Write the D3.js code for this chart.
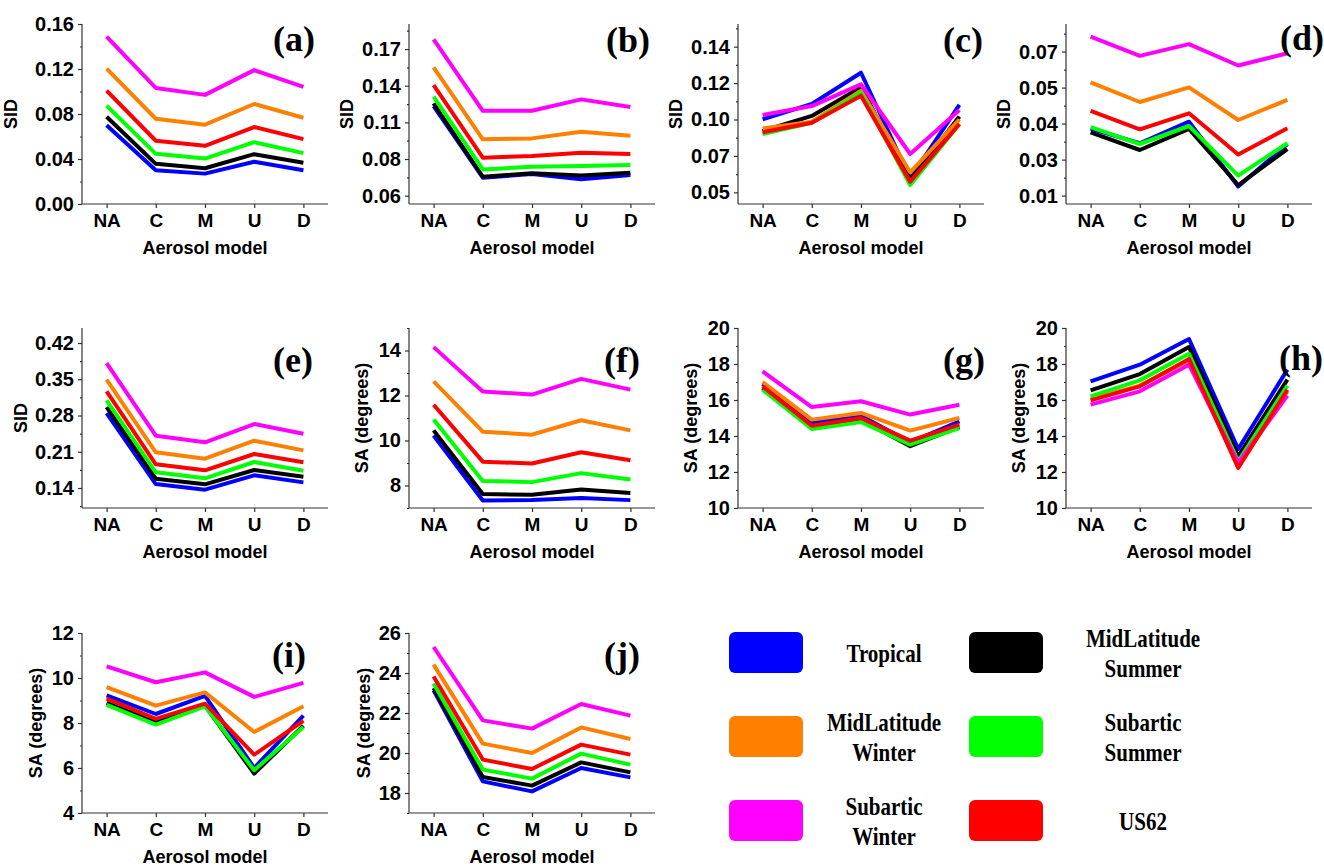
<!DOCTYPE html>
<html>
<head>
<meta charset="utf-8">
<script src="https://cdn.jsdelivr.net/npm/d3@7"></script>
<style>
  body { margin: 0; background: #fff; }
  .tick text { font-family: "Liberation Sans", Arial, sans-serif; font-weight: bold; fill: #000; }
  .axis path, .axis line { stroke: #333; stroke-width: 1.2; }
  .axisLabel { font-family: "Liberation Sans", Arial, sans-serif; font-weight: bold; font-size: 18px; }
  .letter { font-family: "Liberation Serif", "Times New Roman", serif; font-weight: bold; font-size: 36px; }
  .legendText { font-family: "Liberation Serif", "Times New Roman", serif; font-weight: bold; font-size: 21px; }
</style>
</head>
<body>
<div id="chart"></div>
<script>
// categories and series
const categories = ["NA", "C", "M", "U", "D"];
const seriesNames = ["Tropical", "MidLatitude Summer", "MidLatitude Winter", "Subartic Summer", "Subartic Winter", "US62"];
const seriesColors = ["#0000ff", "#000000", "#ff8000", "#00ff00", "#ff00ff", "#ff0000"];

// values per panel, one row per series (same order as seriesNames)
const sidA = [
  [0.070, 0.030, 0.027, 0.0375, 0.030],
  [0.0776, 0.0357, 0.0318, 0.0443, 0.0366],
  [0.1204, 0.0758, 0.0705, 0.0889, 0.0767],
  [0.0874, 0.0446, 0.0404, 0.055, 0.0452],
  [0.1487, 0.1032, 0.097, 0.119, 0.1041],
  [0.1008, 0.0562, 0.0517, 0.0684, 0.0577]
];
const sidB = [
  [0.1284, 0.0697, 0.0727, 0.0684, 0.0719],
  [0.1305, 0.0705, 0.0733, 0.0716, 0.0738],
  [0.160, 0.1011, 0.1019, 0.1074, 0.1041],
  [0.136, 0.0765, 0.0787, 0.0793, 0.0801],
  [0.1829, 0.1245, 0.1245, 0.1338, 0.1275],
  [0.1455, 0.0861, 0.0875, 0.0902, 0.0891]
];
const sidC = [
  [0.0951, 0.1046, 0.1239, 0.0587, 0.104],
  [0.0879, 0.0972, 0.1149, 0.0576, 0.0968],
  [0.0895, 0.0937, 0.1128, 0.0624, 0.0951],
  [0.086, 0.093, 0.1116, 0.0545, 0.0922],
  [0.0978, 0.1033, 0.1167, 0.0737, 0.1009],
  [0.0871, 0.093, 0.1097, 0.0566, 0.0922]
];
const sidD = [
  [0.0379, 0.0318, 0.0408, 0.0138, 0.0315],
  [0.0363, 0.029, 0.0378, 0.0144, 0.0294],
  [0.0572, 0.049, 0.0551, 0.0415, 0.0499],
  [0.0385, 0.0315, 0.039, 0.0183, 0.0318],
  [0.0762, 0.0682, 0.0731, 0.0642, 0.0693],
  [0.0453, 0.0376, 0.0443, 0.0271, 0.0381]
];
const sidE = [
  [0.2848, 0.1477, 0.1368, 0.1645, 0.1509],
  [0.2964, 0.158, 0.1471, 0.1748, 0.1619],
  [0.3492, 0.2089, 0.1966, 0.2314, 0.2127],
  [0.3093, 0.1703, 0.1587, 0.1902, 0.1735],
  [0.3814, 0.2411, 0.2282, 0.2636, 0.2449],
  [0.3267, 0.1857, 0.1741, 0.2057, 0.1896]
];
const saF = [
  [10.22, 7.33, 7.36, 7.44, 7.35],
  [10.45, 7.62, 7.59, 7.82, 7.67],
  [12.63, 10.39, 10.26, 10.9, 10.45],
  [10.93, 8.2, 8.15, 8.55, 8.27],
  [14.15, 12.18, 12.04, 12.74, 12.26],
  [11.59, 9.06, 8.98, 9.48, 9.12]
];
const saG = [
  [16.89, 14.72, 15.13, 13.65, 14.81],
  [16.67, 14.48, 14.91, 13.43, 14.5],
  [17.0, 14.91, 15.28, 14.3, 15.0],
  [16.57, 14.39, 14.78, 13.52, 14.44],
  [17.59, 15.61, 15.93, 15.19, 15.74],
  [16.76, 14.57, 15.0, 13.74, 14.63]
];
const saH = [
  [17.04, 17.96, 19.39, 13.28, 17.69],
  [16.54, 17.44, 18.94, 12.87, 17.13],
  [16.06, 16.8, 18.2, 12.31, 16.48],
  [16.2, 17.09, 18.57, 12.59, 16.8],
  [15.74, 16.48, 17.96, 12.5, 16.24],
  [15.98, 16.76, 18.28, 12.22, 16.57]
];
const saI = [
  [9.23, 8.4, 9.21, 6.0, 8.33],
  [8.89, 8.03, 8.77, 5.75, 7.88],
  [9.59, 8.77, 9.36, 7.6, 8.74],
  [8.81, 7.93, 8.74, 5.9, 7.82],
  [10.52, 9.81, 10.25, 9.16, 9.78],
  [9.08, 8.18, 8.86, 6.59, 8.1]
];
const saJ = [
  [23.13, 18.58, 18.08, 19.25, 18.78],
  [23.25, 18.8, 18.37, 19.53, 19.03],
  [24.42, 20.47, 20.0, 21.28, 20.7],
  [23.47, 19.17, 18.72, 19.97, 19.42],
  [25.3, 21.63, 21.22, 22.45, 21.87],
  [23.83, 19.67, 19.2, 20.42, 19.92]
];

// y ticks (positions) and their printed labels
const ticksA = [0, 0.04, 0.08, 0.12, 0.16];
const labelsA = ["0.00", "0.04", "0.08", "0.12", "0.16"];
const ticksB = [0.055, 0.085, 0.115, 0.145, 0.175];
const labelsB = ["0.06", "0.08", "0.11", "0.14", "0.17"];
const ticksC = [0.05, 0.0725, 0.095, 0.1175, 0.14];
const labelsC = ["0.05", "0.07", "0.10", "0.12", "0.14"];
const ticksD = [0.01, 0.025, 0.04, 0.055, 0.07];
const labelsD = ["0.01", "0.03", "0.04", "0.05", "0.07"];
const ticksE = [0.14, 0.21, 0.28, 0.35, 0.42];
const labelsE = ["0.14", "0.21", "0.28", "0.35", "0.42"];
const ticksF = [8, 10, 12, 14];
const ticksGH = [10, 12, 14, 16, 18, 20];
const ticksI = [4, 6, 8, 10, 12];
const ticksJ = [18, 20, 22, 24, 26];

const W = 1324, H = 866;
const pw = 246, ph = 180;
const colX = [82, 409, 738, 1066];
const rowY = [24, 328, 633];

const panels = [
  {id: "a", data: sidA, ticks: ticksA, labels: labelsA, domain: [0, 0.16], title: "SID", col: 0, row: 0, off: 65, ldx: -13, ldy: 27},
  {id: "b", data: sidB, ticks: ticksB, labels: labelsB, domain: [0.0482, 0.1955], title: "SID", col: 1, row: 0, off: 56, ldx: -5, ldy: 28},
  {id: "c", data: sidC, ticks: ticksC, labels: labelsC, domain: [0.0428, 0.154], title: "SID", col: 2, row: 0, off: 56, ldx: -1, ldy: 28},
  {id: "d", data: sidD, ticks: ticksD, labels: labelsD, domain: [0.0065, 0.0815], title: "SID", col: 3, row: 0, off: 56, ldx: 12, ldy: 26},
  {id: "e", data: sidE, ticks: ticksE, labels: labelsE, domain: [0.1014, 0.449], title: "SID", col: 0, row: 1, off: 55, ldx: -15, ldy: 44},
  {id: "f", data: saF, ticks: ticksF, labels: ticksF.map(String), domain: [7, 15], title: "SA (degrees)", col: 1, row: 1, off: 41, ldx: -15, ldy: 44},
  {id: "g", data: saG, ticks: ticksGH, labels: ticksGH.map(String), domain: [10, 20], title: "SA (degrees)", col: 2, row: 1, off: 41, ldx: 1, ldy: 44},
  {id: "h", data: saH, ticks: ticksGH, labels: ticksGH.map(String), domain: [10, 20], title: "SA (degrees)", col: 3, row: 1, off: 41, ldx: 11, ldy: 42},
  {id: "i", data: saI, ticks: ticksI, labels: ticksI.map(String), domain: [4, 12], title: "SA (degrees)", col: 0, row: 2, off: 40, ldx: -22, ldy: 34},
  {id: "j", data: saJ, ticks: ticksJ, labels: ticksJ.map(String), domain: [17, 26], title: "SA (degrees)", col: 1, row: 2, off: 39, ldx: -15, ldy: 34}
];

const svg = d3.select("#chart").append("svg")
    .attr("width", W)
    .attr("height", H);

const x = d3.scalePoint().domain(categories).range([0, pw]).padding(0.5);

function drawPanel(p) {
    let g = svg.append("g")
        .attr("transform", "translate(" + colX[p.col] + "," + rowY[p.row] + ")");

    let y = d3.scaleLinear().domain(p.domain).range([ph, 0]);

    // minor ticks halfway between the labelled ones
    let step = p.ticks[1] - p.ticks[0];
    let minor = [];
    for (let v = p.ticks[0] - step / 2; v <= p.domain[1] + 1e-9; v += step) {
        if (v >= p.domain[0] - 1e-9) minor.push(v);
    }

    g.append("g")
        .attr("class", "axis")
        .call(d3.axisLeft(y).tickValues(minor).tickSize(2).tickSizeOuter(0).tickFormat(""));

    g.append("g")
        .attr("class", "axis")
        .call(d3.axisLeft(y).tickValues(p.ticks).tickSize(4).tickSizeOuter(0).tickPadding(4)
            .tickFormat((d, i) => p.labels[i]))
        .selectAll("text").style("font-size", "20px");

    g.append("g")
        .attr("class", "axis")
        .attr("transform", "translate(0," + ph + ")")
        .call(d3.axisBottom(x).tickSize(4).tickSizeOuter(0).tickPadding(6))
        .selectAll("text").style("font-size", "19px");

    g.selectAll(".axis path.domain").attr("d", null);
    // redraw plain axis lines (no end caps)
    g.append("line").attr("x1", 0).attr("x2", 0).attr("y1", 0).attr("y2", ph)
        .attr("stroke", "#333").attr("stroke-width", 1.2);
    g.append("line").attr("x1", 0).attr("x2", pw).attr("y1", ph).attr("y2", ph)
        .attr("stroke", "#333").attr("stroke-width", 1.2);

    let line = d3.line()
        .x((d, i) => x(categories[i]))
        .y(d => y(d));

    g.selectAll(".series")
        .data(p.data)
        .enter().append("path")
        .attr("class", "series")
        .attr("d", line)
        .attr("fill", "none")
        .attr("stroke", (d, i) => seriesColors[i])
        .attr("stroke-width", 4)
        .attr("stroke-linejoin", "round");

    g.append("text")
        .attr("class", "axisLabel")
        .attr("transform", "translate(" + (-p.off) + "," + (ph / 2) + ") rotate(-90)")
        .attr("text-anchor", "middle")
        .text(p.title);

    g.append("text")
        .attr("class", "axisLabel")
        .attr("x", pw / 2)
        .attr("y", ph + 50)
        .attr("text-anchor", "middle")
        .text("Aerosol model");

    g.append("text")
        .attr("class", "letter")
        .attr("x", pw + p.ldx)
        .attr("y", p.ldy)
        .attr("text-anchor", "end")
        .text("(" + p.id + ")");
}

panels.forEach(drawPanel);

// legend, 2 columns x 3 rows
const legendBoxX = [729, 969];
const legendTextX = [884, 1143];
const legendRowY = [632, 716, 800];
const boxW = 74, boxH = 41;

let legend = svg.append("g").attr("class", "legend");

seriesNames.forEach((name, i) => {
    let col = i % 2, row = Math.floor(i / 2);
    let by = legendRowY[row];
    legend.append("rect")
        .attr("x", legendBoxX[col])
        .attr("y", by)
        .attr("width", boxW)
        .attr("height", boxH)
        .attr("rx", 6)
        .attr("fill", seriesColors[i]);

    let words = name.split(" ");
    let cy = by + boxH / 2;
    let baselines = words.length === 1 ? [cy + 9] : [cy - 6, cy + 24];
    words.forEach((w, k) => {
        legend.append("text")
            .attr("class", "legendText")
            .attr("transform", "translate(" + legendTextX[col] + "," + baselines[k] + ") scale(1,1.15)")
            .attr("text-anchor", "middle")
            .text(w);
    });
});
</script>
</body>
</html>
